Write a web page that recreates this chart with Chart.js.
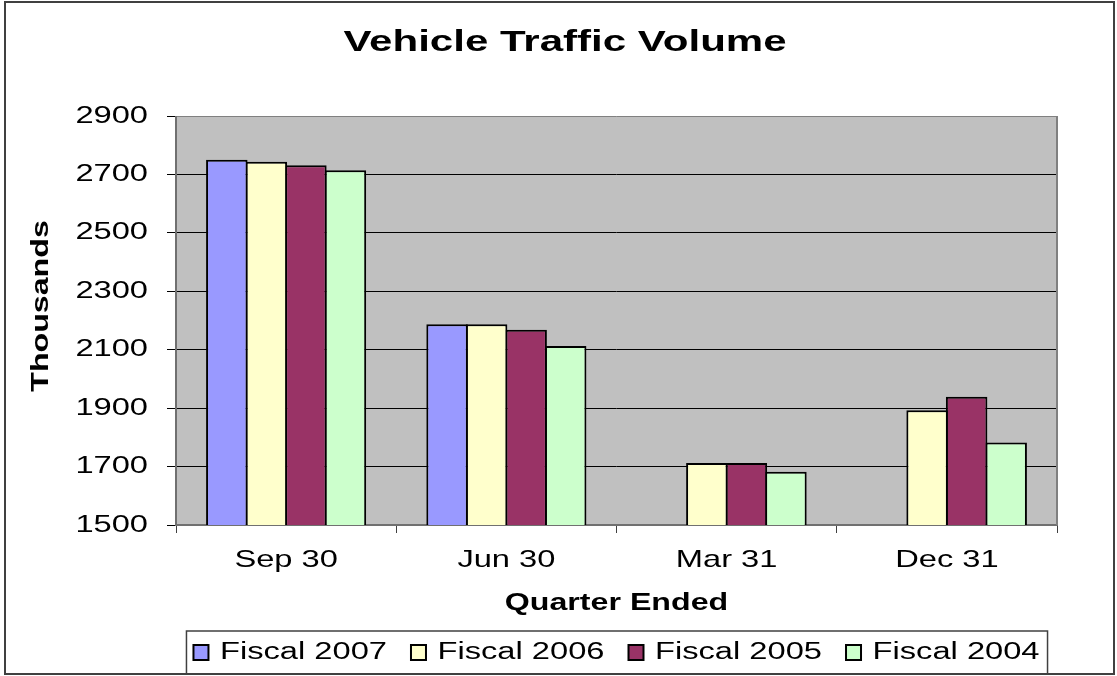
<!DOCTYPE html>
<html><head><meta charset="utf-8">
<script src="https://cdn.jsdelivr.net/npm/chart.js@4.4.1/dist/chart.umd.min.js"></script>
<style>html,body{margin:0;padding:0;background:#fff;} canvas{display:block;}</style>
</head><body>
<canvas id="c" width="1117" height="676"></canvas>
<script>
const categories = ['Sep 30', 'Jun 30', 'Mar 31', 'Dec 31'];
const seriesNames = ['Fiscal 2007', 'Fiscal 2006', 'Fiscal 2005', 'Fiscal 2004'];
const fiscal2007 = [2750, 2187, null, null];
const fiscal2006 = [2743, 2187, 1712, 1893];
const fiscal2005 = [2731, 2168, 1712, 1939];
const fiscal2004 = [2714, 2113, 1682, 1782];
const yMin = 1500, yMax = 2900, yStep = 200;
const seriesColors = ['#9999FF', '#FFFFCC', '#993366', '#CCFFCC'];

// Excel-like horizontally widened text rendering on the canvas
(function () {
  const P = CanvasRenderingContext2D.prototype;
  const f = P.fillText, m = P.measureText;
  function sx(ctx) {
    const font = ctx.font;
    const mm = /(\d+(?:\.\d+)?)px/.exec(font);
    const s = mm ? parseFloat(mm[1]) : 12;
    const bold = /bold|[6-9]00/.test(font);
    if (bold) return s >= 27 ? 1.45 : 1.34;
    return s >= 24 ? 1.36 : 1.42;
  }
  P.fillText = function (t, x, y, w) {
    const s = sx(this);
    this.save();
    this.translate(x, y);
    this.scale(s, 1);
    if (w === undefined) f.call(this, t, 0, 0); else f.call(this, t, 0, 0, w / s);
    this.restore();
  };
  P.measureText = function (t) {
    const r = m.call(this, t);
    const s = sx(this);
    return {
      width: r.width * s,
      actualBoundingBoxLeft: r.actualBoundingBoxLeft * s,
      actualBoundingBoxRight: r.actualBoundingBoxRight * s,
      actualBoundingBoxAscent: r.actualBoundingBoxAscent,
      actualBoundingBoxDescent: r.actualBoundingBoxDescent,
      fontBoundingBoxAscent: r.fontBoundingBoxAscent,
      fontBoundingBoxDescent: r.fontBoundingBoxDescent
    };
  };
})();

const FAM = 'Liberation Sans, Arial, sans-serif';

const decor = {
  id: 'decor',
  afterLayout(chart) {
    const ca = chart.chartArea;
    const t = chart.titleBlock;
    if (t) { const w = t.right - t.left; const cx = 565; t.left = cx - w / 2; t.right = cx + w / 2; }
    const ys = chart.scales.y;
    if (ys) { ys.top = ca.top - 29; }
    const lg = chart.legend;
    if (lg && lg.lineWidths) {
      const pad = lg.options.labels.padding;
      const vis = lg.lineWidths[0] - pad;
      const desiredStart = (ca.left + ca.right) / 2 - vis / 2;
      const curStart = (lg.left + pad + lg.right - lg.lineWidths[0]) / 2;
      const dx = desiredStart - curStart;
      lg.left += dx; lg.right += dx;
      const itemH = Math.max(lg.options.labels.font.size, lg.options.labels.boxHeight);
      const h = lg.bottom - lg.top;
      const newTop = 652.5 - pad - itemH / 2;
      lg.top = newTop; lg.bottom = newTop + h;
      chart.$frame = { x0: desiredStart - 7, x1: desiredStart + vis + 8, y0: 631, y1: 674 };
    }
  },
  beforeDraw(chart) {
    const ctx = chart.ctx, ca = chart.chartArea;
    ctx.save();
    ctx.fillStyle = '#fff';
    ctx.fillRect(0, 0, chart.width, chart.height);
    ctx.fillStyle = '#C0C0C0';
    ctx.fillRect(ca.left, ca.top, ca.right - ca.left, ca.bottom - ca.top);
    ctx.restore();
  },
  afterDraw(chart) {
    const ctx = chart.ctx, ca = chart.chartArea;
    ctx.save();
    ctx.strokeStyle = '#808080';
    ctx.lineWidth = 2;
    ctx.beginPath();
    ctx.moveTo(ca.right, ca.top); ctx.lineTo(ca.right, ca.bottom);
    ctx.stroke();
    ctx.strokeStyle = '#707070';
    ctx.beginPath();
    ctx.moveTo(ca.left, ca.top); ctx.lineTo(ca.left, ca.bottom + 1);
    ctx.stroke();
    const fr = chart.$frame;
    if (fr) {
      ctx.strokeStyle = '#404040';
      ctx.lineWidth = 1.5;
      ctx.strokeRect(fr.x0, fr.y0, fr.x1 - fr.x0, fr.y1 - fr.y0);
    }
    ctx.strokeStyle = '#404040';
    ctx.lineWidth = 2;
    ctx.strokeRect(5, 2, 1109, 672);
    ctx.restore();
  }
};

new Chart(document.getElementById('c'), {
  type: 'bar',
  data: {
    labels: categories,
    datasets: [fiscal2007, fiscal2006, fiscal2005, fiscal2004].map((d, i) => ({
      label: seriesNames[i],
      data: d,
      backgroundColor: seriesColors[i],
      borderColor: '#000',
      borderWidth: 2,
      categoryPercentage: 0.718,
      barPercentage: 1.05
    }))
  },
  options: {
    responsive: false,
    animation: false,
    devicePixelRatio: 1,
    layout: { padding: { left: 0, right: 60, top: 0, bottom: 0 } },
    plugins: {
      title: {
        display: true, text: 'Vehicle Traffic Volume', color: '#000',
        font: { family: FAM, size: 29, weight: 'bold', lineHeight: 1.2 },
        padding: { top: 25.6, bottom: 55.6 }
      },
      legend: {
        position: 'bottom',
        labels: { color: '#000', font: { family: FAM, size: 23 }, boxWidth: 15, boxHeight: 15, padding: 24 }
      },
      tooltip: { enabled: false }
    },
    scales: {
      x: {
        grid: { drawOnChartArea: false, drawTicks: true, tickLength: 8, offset: true, color: '#404040', lineWidth: 1 },
        border: { display: true, color: '#707070', width: 2 },
        ticks: { color: '#000', font: { family: FAM, size: 24 }, padding: 13, maxRotation: 0, autoSkip: false },
        title: {
          display: true, text: 'Quarter Ended', color: '#000',
          font: { family: FAM, size: 24, weight: 'bold' }, padding: { top: 0, bottom: 1.6 }
        },
        afterFit(s) { s.height = 676 - 525 - (s.chart.legend ? s.chart.legend.height : 0); }
      },
      y: {
        min: yMin, max: yMax,
        ticks: { stepSize: yStep, color: '#000', font: { family: FAM, size: 24 }, padding: 19, callback: v => String(v) },
        grid: { color: c => (c.tick && c.tick.value === yMax) ? '#808080' : '#000', lineWidth: 1, tickLength: 9, tickColor: '#000' },
        border: { display: false },
        title: {
          display: true, text: 'Thousands', color: '#000',
          font: { family: FAM, size: 24, weight: 'bold' }, padding: { top: 26.9, bottom: 0 }
        },
        afterFit(s) { s.width = 176; }
      }
    }
  },
  plugins: [decor]
});
</script>
</body></html>
